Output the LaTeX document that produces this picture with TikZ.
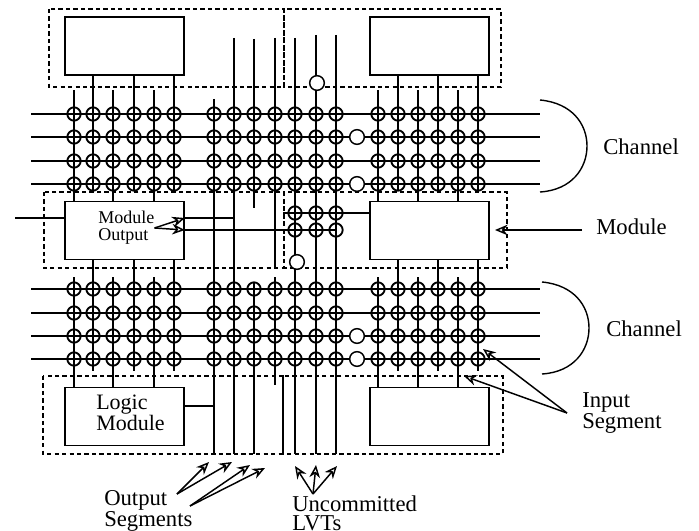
\documentclass[tikz,border=0pt]{standalone}
\usepackage{fontspec}
\setmainfont{Liberation Serif}
\usetikzlibrary{arrows.meta,positioning}
\begin{document}
\begin{tikzpicture}[x=0.75pt, y=-0.75pt,
  box/.style={draw, line width=1.3pt, fill=white, minimum width=89.25pt, minimum height=43.5pt, inner sep=0pt},
  wire/.style={line width=1.05pt},
  zone/.style={line width=1pt, dash pattern=on 3.2pt off 2.4pt},
  xing/.style={draw, circle, line width=1.4pt, minimum size=10pt, inner sep=0pt},
  fuse/.style={draw, circle, fill=white, line width=1.1pt, minimum size=11pt, inner sep=0pt},
  lbl/.style={inner sep=0pt, font=\fontsize{17}{14.5}\selectfont, align=left},
  arr/.style={-{Stealth[open, length=9.5pt, width=8pt]}, line width=1.1pt}]
\useasboundingbox (0,0) rectangle (699,531);
\node[box] (modTL) at (124.5,46) {};
\node[box] (modTR) at (429.5,46) {};
\node[box] (modML) at (124.5,230.5) {};
\node[box] (modMR) at (429.5,230.5) {};
\node[box] (modBL) at (124.5,416.5) {};
\node[box] (modBR) at (429.5,416.5) {};
\draw[zone] (49,9) rectangle (284,87);
\draw[zone] (284,9) rectangle (501,87);
\draw[zone] (44,192) rectangle (284,268);
\draw[zone] (284,192) rectangle (507,268);
\draw[zone] (43,376) rectangle (283,454);
\draw[zone] (283,376) rectangle (503,454);
\foreach \y in {114,137,161,184,289,313,336,359} {
  \coordinate (w\y) at (31,\y); \coordinate (e\y) at (540,\y);
  \draw[wire] (w\y) -- (e\y);
}
\foreach \x in {74,113,154} {
  \coordinate (u\x) at (\x,90); \coordinate (v\x) at (\x,277);
  \draw[wire] (u\x) -- (modML.north -| u\x);
  \draw[wire] (v\x) -- (modBL.north -| v\x);
}
\foreach \x in {378,418,458} {
  \coordinate (u\x) at (\x,90); \coordinate (v\x) at (\x,277);
  \draw[wire] (u\x) -- (modMR.north -| u\x);
  \draw[wire] (v\x) -- (modBR.north -| v\x);
}
\foreach \x in {93,134,174} {
  \coordinate (p\x) at (\x,190); \coordinate (q\x) at (\x,371);
  \draw[wire] (modTL.south -| p\x) -- (p\x);
  \draw[wire] (modML.south -| q\x) -- (q\x);
}
\foreach \x in {398,438,478} {
  \coordinate (p\x) at (\x,190); \coordinate (q\x) at (\x,371);
  \draw[wire] (modTR.south -| p\x) -- (p\x);
  \draw[wire] (modMR.south -| q\x) -- (q\x);
}
\foreach \x/\a/\b in {214/99/454, 234/38/454, 254/39/208, 254/283/454, 275/38/269, 275/277/385, 295/38/454, 316/35/454, 336/35/454} {
  \coordinate (a\x-\a) at (\x,\a); \coordinate (b\x-\a) at (\x,\b);
  \draw[wire] (a\x-\a) -- (b\x-\a);
}
\coordinate (inW) at (15,218);
\coordinate (outA) at (234,218);
\coordinate (outB) at (336,230);
\coordinate (busW) at (283,213);
\coordinate (outC) at (214,406);
\draw[wire] (inW) -- (modML.west |- inW);
\draw[wire] (modML.east |- outA) -- (outA);
\draw[wire] (modML.east |- outB) -- (outB);
\draw[wire] (busW) -- (modMR.west |- busW);
\draw[wire] (modBL.east |- outC) -- (outC);
\foreach \x in {74,93,113,134,154,174,214,234,254,275,295,316,336,378,398,418,438,458,478} {
  \foreach \y in {114,137,161,184,289,313,336,359} {
    \node[xing] (c\x-\y) at (\x,\y) {};
  }
}
\foreach \x in {295,316,336} {
  \foreach \y in {213,230} {
    \node[xing] (c\x-\y) at (\x,\y) {};
  }
}
\node[fuse] (f1) at (317,83) {};
\node[fuse] (f2) at (297,262) {};
\node[fuse] (f3) at (357,137) {};
\node[fuse] (f4) at (357,184) {};
\node[fuse] (f5) at (357,336) {};
\node[fuse] (f6) at (357,359) {};
\coordinate (arcTa) at (540,100); \coordinate (arcTb) at (540,192);
\coordinate (arcBa) at (542,282); \coordinate (arcBb) at (542,374);
\draw[wire] (arcTa) .. controls (572,103) and (587,124) .. (587,146) .. controls (587,168) and (572,190) .. (arcTb);
\draw[wire] (arcBa) .. controls (574,285) and (589,306) .. (589,328) .. controls (589,350) and (574,372) .. (arcBb);
\node[lbl, right] (chanT) at (603,147) {Channel};
\node[lbl, right] (modLbl) at (596,227) {Module};
\node[lbl, right] (chanB) at (606,329) {Channel};
\node[lbl, right] (inLbl) at (582,413) {Input\\Segment};
\node[lbl, right] (outLbl) at (104,511) {Output\\Segments};
\node[lbl, right] (uncLbl) at (292,513) {Uncommitted\\LVTs};
\node[lbl, right, font=\fontsize{16.5}{14.5}\selectfont] (logicLbl) at (96,413) {Logic\\Module};
\node[lbl, right, font=\fontsize{13.5}{12.5}\selectfont] (mOutLbl) at (98,228) {Module\\Output};
\coordinate (modArr) at (495,230); \coordinate (modTail) at (582,230);
\draw[arr] (modTail) -- (modArr);
\coordinate (inSrc) at (567,413);
\coordinate (inA) at (483,349); \coordinate (inB) at (464,376);
\draw[arr] (inSrc) -- (inA); \draw[arr] (inSrc) -- (inB);
\draw[arr] (mOutLbl.east) -- (modML.east |- outA);
\draw[arr] (mOutLbl.east) -- (modML.east |- outB);
\coordinate (osA) at (177,494); \coordinate (osB) at (190,506);
\coordinate (osC) at (209,462); \coordinate (osD) at (232,462);
\coordinate (osE) at (250,465); \coordinate (osF) at (265,468);
\draw[arr] (osA) -- (osC); \draw[arr] (osA) -- (osD);
\draw[arr] (osB) -- (osE); \draw[arr] (osB) -- (osF);
\coordinate (lvS) at (313,494);
\coordinate (lvA) at (295,466); \coordinate (lvB) at (316,465); \coordinate (lvC) at (337,466);
\draw[arr] (lvS) -- (lvA); \draw[arr] (lvS) -- (lvB); \draw[arr] (lvS) -- (lvC);
\end{tikzpicture}
\end{document}
